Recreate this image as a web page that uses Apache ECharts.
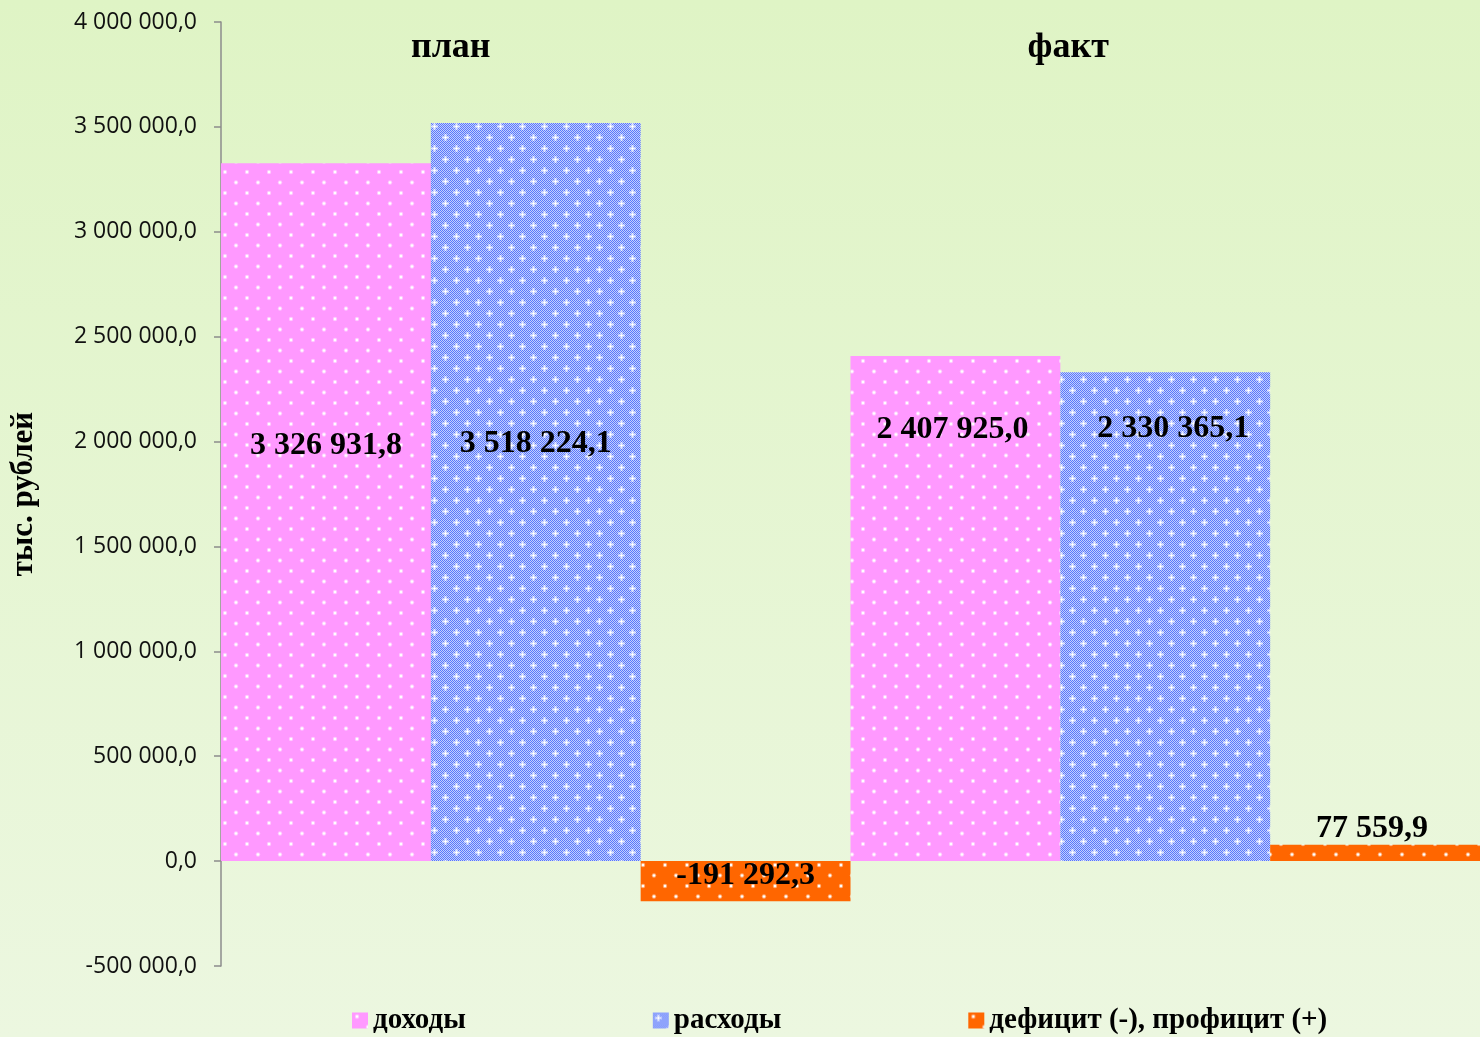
<!DOCTYPE html>
<html>
<head>
<meta charset="utf-8">
<script src="https://cdn.jsdelivr.net/npm/echarts@6/dist/echarts.min.js"></script>
<style>
html,body{margin:0;padding:0;width:1480px;height:1037px;overflow:hidden;}
#chart{width:1480px;height:1037px;}
</style>
</head>
<body>
<div id="chart"></div>
<script>
// ---- data ----
const categories = ['план', 'факт'];
const seriesNames = ['доходы', 'расходы', 'дефицит (-), профицит (+)'];
const incomeValues = [3326931.8, 2407925.0];
const expenseValues = [3518224.1, 2330365.1];
const balanceValues = [-191292.3, 77559.9];
const yTicks = { min: -500000, max: 4000000, interval: 500000 };

// ---- patterns ----
function dotTile(base) {
  const c = document.createElement('canvas');
  c.width = 22; c.height = 21;
  const g = c.getContext('2d');
  g.fillStyle = base; g.fillRect(0, 0, 22, 21);
  const pts = [[5, 4], [16, 14.5]];
  pts.forEach(p => {
    g.fillStyle = 'rgba(255,255,255,0.45)';
    g.beginPath(); g.arc(p[0], p[1], 2.2, 0, Math.PI * 2); g.fill();
    g.fillStyle = '#ffffff';
    g.beginPath(); g.arc(p[0], p[1], 1.2, 0, Math.PI * 2); g.fill();
  });
  return c;
}
function checkTile() {
  const c = document.createElement('canvas');
  c.width = 22; c.height = 22;
  const g = c.getContext('2d');
  for (let y = 0; y < 22; y++) {
    for (let x = 0; x < 22; x++) {
      g.fillStyle = ((x + y) % 2 === 0) ? '#5a78fa' : '#c2ceff';
      g.fillRect(x, y, 1, 1);
    }
  }
  const pts = [[5, 5], [16, 16]];
  pts.forEach(p => {
    g.fillStyle = 'rgba(255,255,255,0.7)';
    g.fillRect(p[0] - 3, p[1] - 0.5, 7, 2);
    g.fillRect(p[0] - 0.5, p[1] - 3, 2, 7);
    g.fillStyle = '#ffffff';
    g.fillRect(p[0] - 1, p[1], 3, 1);
    g.fillRect(p[0], p[1] - 1, 1, 3);
  });
  return c;
}
const pinkPattern = { image: dotTile('#ff99ff'), repeat: 'repeat' };
const bluePattern = { image: checkTile(), repeat: 'repeat' };
const orangePattern = { image: dotTile('#ff6600'), repeat: 'repeat' };

function fmt(v) {
  const neg = v < 0;
  const s = Math.abs(v).toFixed(1);
  const parts = s.split('.');
  const int = parts[0].replace(/\B(?=(\d{3})+(?!\d))/g, ' ');
  return (neg ? '-' : '') + int + ',' + parts[1];
}

const serifBold = { fontFamily: 'Liberation Serif', fontWeight: 'bold', color: '#000' };
const labelBase = Object.assign({ show: true, fontSize: 32, formatter: p => fmt(p.value) }, serifBold);

// label offsets (layout only)
const incomeLabelOffsets = [[0, -66], [-3, -179]];
const expenseLabelOffsets = [[0, -48], [8, -188]];

function buildData(values, offsets, extra) {
  return values.map((v, i) => {
    const d = { value: v };
    if (offsets) d.label = { offset: offsets[i] };
    if (extra) Object.assign(d, extra(v, i));
    return d;
  });
}

const chart = echarts.init(document.getElementById('chart'));
chart.setOption({
  backgroundColor: {
    type: 'linear', x: 0, y: 0, x2: 0, y2: 1,
    colorStops: [{ offset: 0, color: '#dff4c5' }, { offset: 1, color: '#ecf7e0' }]
  },
  animation: false,
  grid: { left: 219, right: 0, top: 22, bottom: 71, containLabel: false },
  legend: {
    left: 352, top: 1006, padding: 0,
    itemWidth: 16, itemHeight: 16, itemGap: 187,
    icon: 'rect',
    textStyle: Object.assign({ fontSize: 29 }, serifBold),
    data: seriesNames
  },
  xAxis: {
    type: 'category', data: categories, position: 'top',
    axisLine: { show: false }, axisTick: { show: false },
    axisLabel: {
      inside: true, margin: 8,
      formatter: (v, i) => i === 0 ? '{a|' + v + '}' : '{b|' + v + '}',
      rich: {
        a: Object.assign({ fontSize: 36, padding: [0, 170, 0, 0] }, serifBold),
        b: Object.assign({ fontSize: 36, padding: [0, 194, 0, 0] }, serifBold)
      }
    }
  },
  yAxis: {
    type: 'value', min: yTicks.min, max: yTicks.max, interval: yTicks.interval,
    name: 'тыс. рублей', nameLocation: 'middle', nameGap: 182, nameRotate: 90,
    nameTextStyle: Object.assign({ fontSize: 31 }, serifBold),
    axisLine: { show: true, lineStyle: { color: '#8c8c8c', width: 1.5 } },
    axisTick: { show: true, length: 7, lineStyle: { color: '#8c8c8c', width: 1.5 } },
    splitLine: { show: false },
    axisLabel: { fontFamily: 'Open Sans', fontSize: 23, color: '#111', margin: 24, formatter: v => fmt(v) }
  },
  series: [
    {
      name: seriesNames[0], type: 'bar', barGap: 0, barCategoryGap: 0,
      itemStyle: { color: pinkPattern },
      label: Object.assign({ position: 'inside' }, labelBase),
      data: buildData(incomeValues, incomeLabelOffsets)
    },
    {
      name: seriesNames[1], type: 'bar', barGap: 0, barCategoryGap: 0,
      itemStyle: { color: bluePattern },
      label: Object.assign({ position: 'inside' }, labelBase),
      data: buildData(expenseValues, expenseLabelOffsets)
    },
    {
      name: seriesNames[2], type: 'bar', barGap: 0, barCategoryGap: 0,
      itemStyle: { color: orangePattern },
      label: labelBase,
      data: buildData(balanceValues, null, (v) => v < 0
        ? { label: { position: 'inside', offset: [0, -5] } }
        : { label: { position: 'top', distance: 0, offset: [-3, 0] } })
    }
  ]
});
</script>
</body>
</html>
